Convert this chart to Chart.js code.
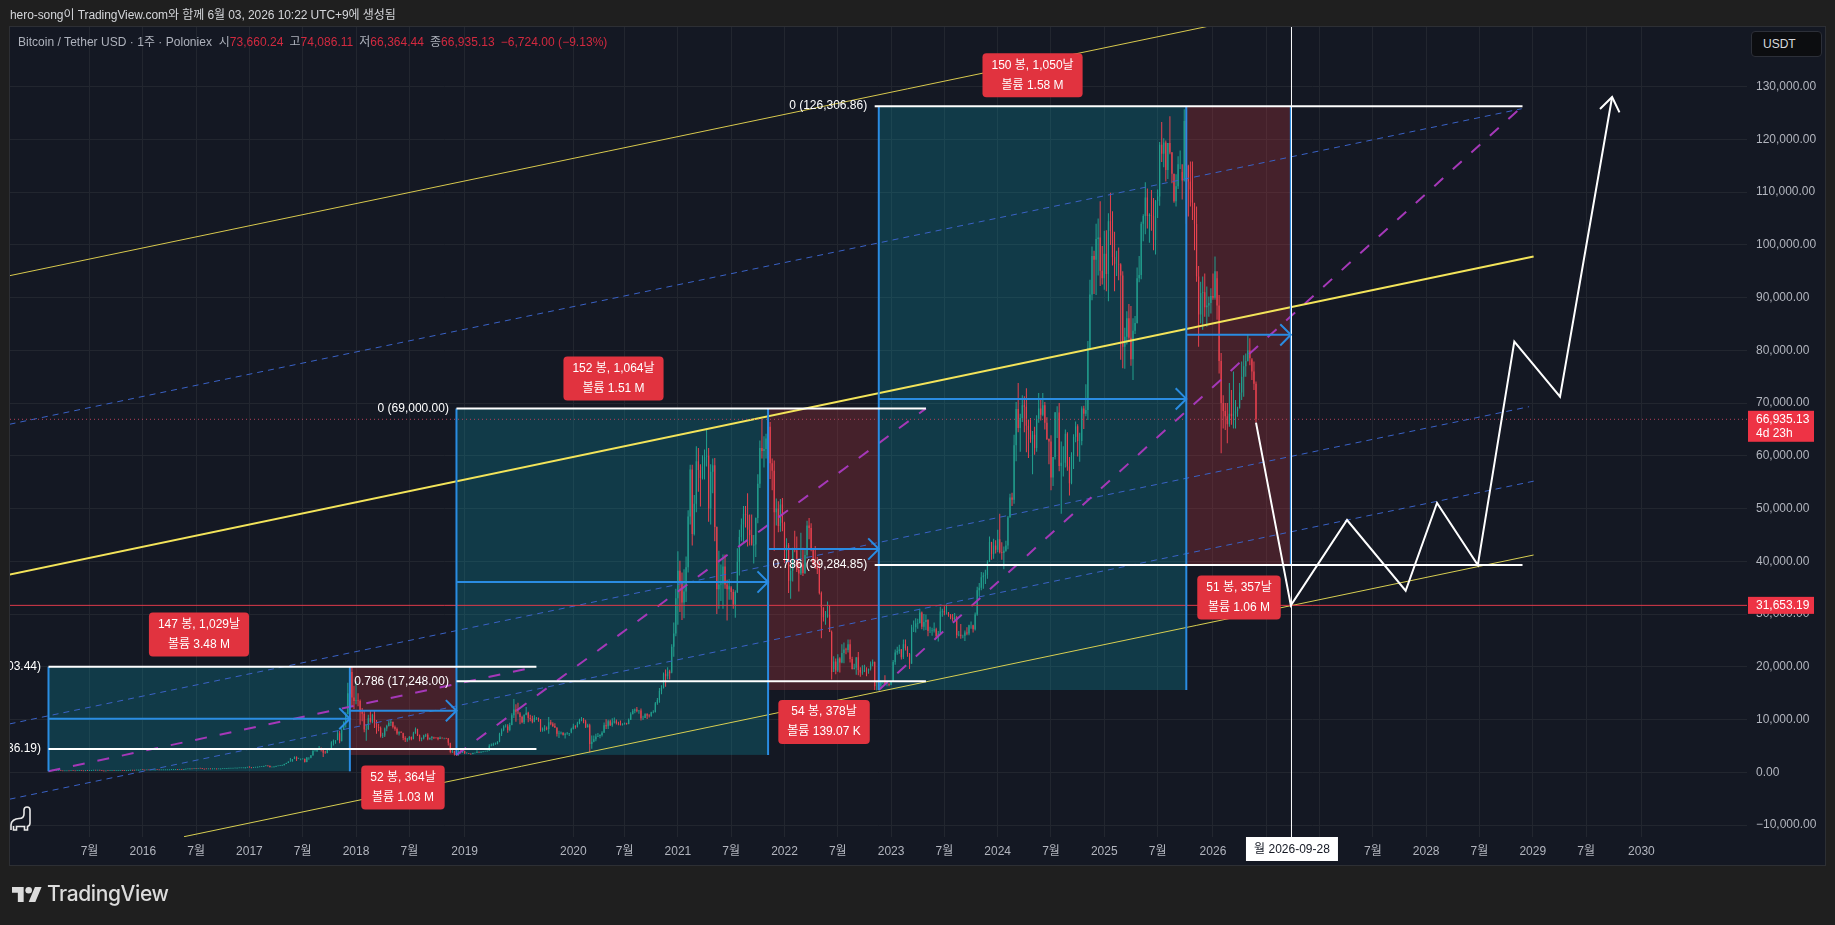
<!DOCTYPE html>
<html lang="ko">
<head>
<meta charset="utf-8">
<title>BTCUSDT weekly</title>
<script src="https://cdn.jsdelivr.net/npm/chart.js@4"></script>
<style>
  html, body { margin: 0; padding: 0; background: #1f1f1f; width: 1835px; height: 925px; overflow: hidden; }
  body { font-family: "Liberation Sans", "Noto Sans CJK KR", sans-serif; font-size: 12px; position: relative; }
  #pane { position: absolute; left: 9px; top: 26px; width: 1815px; height: 838px; background: #141823; border: 1px solid #2d2f34; }
  #chartCanvas { position: absolute; left: 0; top: 0; }
  #credit { position: absolute; left: 10px; top: 5px; color: #d4d6da; white-space: nowrap; letter-spacing: -0.07px; }
  #legend { position: absolute; left: 18px; top: 32px; color: #aeb2bc; white-space: nowrap; letter-spacing: 0.03px; }
  #legend b { font-weight: normal; color: #d2293f; margin-right: 6px; }
  #unit { position: absolute; left: 1751px; top: 31px; width: 68px; height: 24px; line-height: 24px; padding-left: 1px; text-indent: 10px;
          background: #0c0d10; border: 1px solid #2c2f38; border-radius: 4px; color: #d8dade; }
  #brand { position: absolute; left: 12px; top: 881px; display: flex; align-items: center; color: #dcdcdc; }
  #brand span { font-family: Inter, "Liberation Sans", sans-serif; font-weight: 500; font-size: 21px; margin-left: 5px; letter-spacing: -0.4px; }
  #dino { position: absolute; left: 10px; top: 806px; }
</style>
</head>
<body>
<div id="pane"></div>
<canvas id="chartCanvas" width="1835" height="925"></canvas>
<div id="credit">hero-song이 TradingView.com와 함께 6월 03, 2026 10:22 UTC+9에 생성됨</div>
<div id="legend">Bitcoin / Tether USD · 1주 · Poloniex&nbsp; 시<b>73,660.24</b>고<b>74,086.11</b>저<b>66,364.44</b>종<b>66,935.13</b><b>−6,724.00 (−9.13%)</b></div>
<div id="unit">USDT</div>
<svg id="dino" width="22" height="25" viewBox="0 0 22 25" fill="none" stroke="#e8e8e8" stroke-width="1.6">
  <path d="M1 24V19C1 15 5 12.5 9 12.5C12.5 12.5 14 11 14 8V4C14 1.8 15.5 1 17 1C18.8 1 20 2.2 20 4V17C20 19 19 20 17.5 20.5V24H14.5V20.5H6.5V24H3.5V20"/>
</svg>
<div id="brand">
  <svg width="30" height="16" viewBox="0 3 36 19" fill="#dcdcdc"><path d="M14 22H7V11H0V4h14v18zM28 22h-8l7.5-18h8L28 22z"/><circle cx="20" cy="8" r="4"/></svg>
  <span>TradingView</span>
</div>
<script>
// weekly bars, week 0 = 2015-02-23
const barHigh = [
  255,300,300,290,265,270,260,240,240,245,240,250,245,240,250,250,245,240,255,255,285,290,300,295,315,300,285,265,240,240,240,245,240,245,245,255,245,240,270,340,500,385,340,380,465,470,
  460,450,410,400,385,410,450,445,425,420,420,420,420,425,430,455,465,460,460,455,535,590,590,780,700,680,670,670,670,660,625,590,590,590,610,620,610,610,615,645,650,660,715,740,745,750,760,775,785,800,895,985,
  1150,910,925,925,1030,1060,1060,1220,1290,1340,1250,1120,1090,1220,1220,1260,1360,1630,1800,2050,2700,2500,2990,2980,2780,2600,2660,2600,2880,2850,3300,4200,4500,4500,4980,4700,4400,4100,4400,4620,5900,6200,6100,7900,7900,8300,9700,11400,17000,19700,20003,16400,
  17250,15000,13800,12200,11700,9000,10900,11700,11100,11700,9900,9200,8700,7500,8500,9000,9800,9900,9600,8850,8500,7800,7800,7400,6850,6500,6900,6800,7700,8480,8250,7150,6600,7100,7300,7400,6600,6900,6750,6650,6700,6800,6600,6550,6550,6500,5500,4300,4100,3600,4200,4200,4100,
  4100,3800,3650,3550,3720,3700,4200,3950,3950,4000,4100,4150,5300,5450,5600,5650,5900,7500,8300,8900,9100,9100,9400,11200,13900,12900,13200,11100,10700,10950,12400,11500,10900,10700,10800,10500,10400,10100,8500,8900,8700,10500,9900,9500,9300,8500,7900,7750,7600,7500,7650,7450,
  8450,9200,8900,9600,10150,10500,10300,9950,9200,9200,7000,7000,7300,7450,7200,7800,9450,10050,9950,9950,10250,10400,10000,9600,9800,9300,9450,9400,10200,11400,12000,12100,12400,11800,12100,10700,11200,11200,11000,11500,11750,13350,14100,16000,16500,18900,19500,19900,19450,24300,28400,34800,
  41900,40100,37900,38500,40900,49700,58300,58300,52600,61800,61500,58400,60100,61200,64900,61500,58400,59500,59600,46600,42000,39400,41300,41300,36500,36600,35000,34700,34500,42500,46000,48100,50500,50500,52900,48900,48900,45000,48300,56500,62900,67000,63700,64200,69000,66400,59500,59100,51900,51400,51800,52000,
  47500,44400,43500,38900,42600,45800,44700,40000,45400,42600,42300,47700,48200,47200,42400,42900,40800,40000,34300,31000,30600,32400,31700,26900,22000,21600,22400,21800,24300,24600,23600,25200,25200,21900,20600,21800,22800,19900,20300,20400,19900,19700,21000,21400,21000,17200,16800,17400,17400,18400,17000,16900,
  17200,21300,23300,23800,24200,23400,25200,25200,23900,22600,28000,28800,29200,29100,31000,30500,30000,29900,29000,27600,27400,28400,27400,26800,31400,31000,31500,31800,30400,30000,30000,30200,29700,26800,28100,26100,26900,27500,28000,28600,28000,30300,35200,35900,38000,37900,38400,40200,44700,43500,44300,44000,
  46000,49000,43600,42800,43900,48600,52800,53000,64000,70200,73800,68000,71500,71300,72800,66900,67200,64700,65500,67700,71900,70600,71900,70200,67300,63300,63900,59800,68300,69400,70000,62700,61800,65000,64500,59800,60700,64100,66500,66000,64400,69400,69500,73600,81800,93400,99700,98900,104000,105000,108300,99800,
  102700,102800,106000,109900,106400,102500,98900,99500,96500,95000,84300,87400,88800,88400,86100,86500,95700,97900,104400,105800,111900,110700,106000,110400,108900,108500,110500,119500,123300,120200,119800,119300,124400,117600,113500,113400,116800,117900,113800,125700,126306,
  115200,115800,115800,107300,107300,96000,93000,94000,94600,92100,90200,91800,94600,97800,93700,90500,79500,71500,70000,70000,73800,72500,76000,70600,69300,73800,77900,79100,79400,82900,82300,78200,77900,74086
];
const barLow = [
  215,235,270,240,235,245,230,215,215,220,220,225,225,220,225,235,225,215,225,240,245,265,280,275,280,280,255,200,220,225,225,230,225,225,235,235,230,225,230,255,310,310,305,320,355,405,
  425,360,370,365,365,370,400,415,405,405,405,405,405,410,415,420,445,440,440,440,445,520,560,575,580,630,640,645,650,615,540,560,565,560,570,600,595,590,595,605,630,635,650,680,695,715,725,745,755,770,785,880,
  890,750,810,880,915,960,1000,1040,1170,1100,960,900,950,1040,1150,1180,1240,1340,1550,1750,2020,2050,2500,2130,2500,2300,2450,1840,1900,2400,2650,3200,3950,3850,4300,3950,2900,3500,3600,4150,4550,5100,5400,6100,5500,5900,8000,8500,11000,14800,12500,12000,
  12900,12500,9000,9700,7600,6000,8000,9400,9300,8400,7300,7800,6600,6500,6700,7800,8700,8800,8300,7900,7100,7000,7450,6100,5750,5800,6100,6100,6300,7300,6900,5900,5880,6200,6700,6100,6150,6100,6300,6400,6100,6300,6400,6250,6300,5100,3600,3650,3200,3150,3200,3550,3650,
  3500,3500,3450,3350,3400,3560,3650,3650,3670,3780,3900,3950,4100,4950,5050,5200,5300,5700,6900,7800,8500,7500,7800,8900,10300,9600,11000,9100,9300,9150,10800,9500,9700,9300,9500,9900,9600,7700,7700,7800,7950,7300,8900,8600,8400,6800,6500,7150,7000,6400,7100,6900,
  7670,8100,8250,8500,9100,9700,9300,8400,8500,3800,4450,5700,5900,6700,6450,6800,7500,8200,8200,8800,8650,9250,9050,8900,8850,8850,9050,9000,9100,9900,11000,11200,11400,11100,9800,9900,10300,10100,10400,10550,11200,11350,12800,13200,14800,15900,16200,17600,17600,19050,21900,25800,
  28000,30400,28900,29200,32300,37900,47000,43000,44900,49300,53200,50400,55500,55500,58000,47500,47000,52900,43800,30000,31000,32500,31000,34800,28800,32700,32700,31000,29300,34000,37300,43800,43500,46400,42800,43000,43400,39600,40800,47200,53900,59500,57800,59500,62300,55600,53500,42000,46800,45500,45600,45700,
  39700,39800,34000,32900,36200,41700,38000,34300,37400,37200,37600,40500,44200,41900,39200,38600,37600,33700,25400,28600,28000,29300,26600,17600,19600,18600,19000,18900,20700,20700,22400,22700,20800,19500,19500,18500,18400,18100,18500,19100,18200,18700,19300,20100,15600,15500,15500,16100,16700,16500,16300,16300,
  16500,17100,20400,22300,22500,21400,21500,23100,21900,19600,20600,26600,26500,27200,28200,27100,26900,27000,25800,26400,25900,26500,25400,24800,26300,29500,29800,29900,29500,29000,28600,28800,25400,25800,25300,25400,24900,26000,26000,27200,26500,26900,29700,33400,34500,34800,35700,36700,39900,40300,40500,41500,
  41700,41500,40300,38500,41800,42300,48300,50500,50900,59000,64500,60800,66400,64500,60700,59600,62500,56500,60200,60800,66300,66700,67500,65000,63000,58400,53500,54300,59300,63400,57100,49000,56100,57800,57200,52500,54600,57500,62600,59900,58900,62000,65100,67500,66800,80200,89500,90700,90500,94200,92200,92500,
  91500,91200,89300,100000,96100,91200,94100,93300,78200,76600,76500,81100,81600,77100,74400,83100,85100,92900,93500,100700,102000,103100,100400,102700,99000,98200,105100,107400,115700,114700,112000,112500,117200,111700,108000,107300,110600,114400,108600,112000,104000,
  105400,107300,104700,99000,93000,80700,85100,83900,86400,84500,86400,87000,89600,89600,85800,75600,60500,65200,64900,62400,65500,65900,65200,65200,67400,69300,70600,71200,75000,77900,77200,74400,72500,66364
];
const barClose = [
  240,275,285,245,250,255,235,225,225,235,225,240,235,230,240,245,235,225,250,245,270,280,290,285,295,285,260,215,235,230,230,240,230,240,240,250,235,230,260,320,375,330,325,360,430,450,
  447,380,400,375,375,405,440,420,415,415,415,415,415,420,425,450,460,445,455,445,530,575,580,680,660,660,650,660,655,625,590,570,580,570,600,610,600,600,610,640,640,650,700,700,730,730,750,760,770,790,890,960,
  905,820,920,920,1010,1030,1050,1180,1270,1230,970,970,1070,1180,1180,1240,1340,1550,1780,2040,2050,2500,2950,2500,2500,2500,2500,1950,2750,2750,3200,4100,4100,4350,4400,4300,3700,3650,4350,4600,5700,6000,6100,7400,5900,8000,9500,11000,15000,19000,14200,13500,
  13600,13500,11500,11100,8100,8200,10300,9600,10900,9500,8600,8400,6900,7000,8300,8800,9400,9600,8600,8200,7350,7600,7500,6500,6200,6350,6700,6250,7400,8200,7000,6300,6400,7000,7100,6250,6500,6700,6600,6550,6300,6550,6450,6450,6400,5600,3850,4000,3550,3250,3950,3800,4050,
  3550,3550,3530,3460,3650,3680,3800,3790,3900,3990,3990,4100,5050,5100,5300,5350,5800,7250,8000,8700,8700,8000,8950,10800,11900,11500,11400,10500,9500,10900,11300,10300,10100,9600,10300,10300,10000,8000,8200,8300,8200,9500,9200,8800,8500,7300,7400,7500,7100,7250,7300,7400,
  8200,8700,8600,9300,9900,9900,9700,8550,8900,5350,5800,6250,6800,6900,7050,7500,8900,8750,9700,8900,9450,9700,9350,9300,9000,9100,9300,9150,9950,11000,11650,11900,11650,11700,10250,10300,11000,10750,10700,11400,11450,13100,13700,15450,16000,18700,18200,19100,18800,23800,26300,33000,
  38200,36000,32200,34300,38900,48500,57400,45200,50900,59000,57300,55800,58000,59800,60000,50000,57000,58200,46500,34700,35600,35800,39000,35600,34700,35300,34200,31800,34200,39900,44600,47000,49000,48800,46000,45000,43000,43200,48200,54700,61500,60900,61300,63300,65500,58600,57200,49300,50000,46700,50800,47300,
  42000,43100,36300,38200,42400,42100,38400,37700,39400,37800,41200,46800,46300,42200,39700,39500,38500,34000,31300,29400,29500,29900,26600,19000,21000,19300,21600,20800,22600,23300,23200,24300,21500,19600,19800,21800,19400,18900,19000,19400,19300,19600,20600,20900,16300,16300,16400,17100,17100,16800,16800,16600,
  17100,20900,22700,23000,23300,21800,24300,23500,22400,20600,27500,27500,28200,28300,30300,27600,28500,28900,26800,26800,26900,27100,25800,26300,30500,30600,30300,30300,29800,29300,29000,29400,26000,26100,25900,25900,26500,26300,27900,27900,27100,29900,34500,35000,37000,37300,37400,39900,43700,41400,43000,42200,
  44200,41700,41600,42000,43000,48300,52100,51700,62000,68900,65300,67200,69600,69300,65700,64900,63100,64000,61500,67000,69000,67800,69600,66300,63200,62700,55900,59800,68200,68200,58100,58700,58700,64200,58000,54800,60000,63600,65600,62800,62800,69000,68000,68700,80400,90600,97900,97200,101100,101400,95100,93700,
  98300,94500,104500,102600,97700,96400,96400,96300,94200,80700,82600,86100,82400,78300,83700,85200,93700,94300,104000,105500,109000,105500,105700,105500,100900,108300,109200,119000,117300,119400,114200,119300,117500,113500,108300,111100,115300,115300,112200,123500,115000,
  112000,110500,108000,104000,94000,86800,90900,91000,88200,88500,89000,90300,90000,95000,88500,78000,70000,68500,67500,66000,68000,67500,68000,68500,69000,72000,75000,77000,78000,80000,78500,76000,73659,66935.13
];

// axis ticks
const weekTicks = [20,46,72,98,124,150,176,203,256,281,307,333,359,385,411,437,463,489,515,541,568,594,620,646,672,698,724,750,777];
const weekTickLabels = ['7월','2016','7월','2017','7월','2018','7월','2019','2020','7월','2021','7월','2022','7월','2023','7월','2024','7월','2025','7월','2026','7월','2027','7월','2028','7월','2029','7월','2030'];
const priceTicks = [-10000,0,10000,20000,30000,40000,50000,60000,70000,80000,90000,100000,110000,120000,130000];

// channel and trend lines, [week, price]
const channelTop = [[-19,94160],[565,141400]];
const channelMid = [[-19,37480],[724.4,97800]];
const channelLow = [[66.1,-12210],[724.4,41200]];
const dashedTop = [[-19,65990],[718.6,125820]];
const dashedMid = [[-19,9170],[722.2,69320]];
const dashedLow = [[-19,-5100],[724.8,55230]];
const diagonalFirst = [[0,186],[238,20003]];
const diagonalSecond = [[199,3300],[428,69000]];
const diagonalThird = [[405,15600],[719,126306]];
const projectionPath = [[589,66290],[606,31653],[633.4,47840],[662,34430],[677.3,51060],[697.2,39285],[715,81650],[737.3,71220],[762.7,128040]];

// measured ranges [fromWeek, toWeek, lowPrice, highPrice]
const riseRanges = [[0,147,186,20003],[199,351,3300,69000],[405,555,15600,126306]];
const fallRanges = [[147,199,3283,20003],[351,405,15600,69000],[555,606,39285,126306]];
const rangeEdges = [[0,186,20003],[147,186,20003],[199,3300,69000],[351,3300,69000],[405,15600,126306],[555,15600,126306],[606,39285,126306]];
const rangeArrows = [[0,147,10163],[147,199,11680],[199,351,36083],[351,405,42340],[405,555,70800],[555,606,82950]];

// fib levels
const fibFrom = [0,0,199,199,403,403];
const fibTo = [238,238,428,428,719,719];
const fibPrice = [20003.44,4436.19,69000,17248,126306.86,39284.85];
const fibText = ['0 (20,003.44)','0.786 (4,436.19)','0 (69,000.00)','0.786 (17,248.00)','0 (126,306.86)','0.786 (39,284.85)'];

// range captions
const captionWeek = [73.4,172.9,275.6,378.3,480,580.7];
const captionPrice = [26128,-2882,74668,9537,132157,33144];
const captionBars = ['147 봉, 1,029날','52 봉, 364날','152 봉, 1,064날','54 봉, 378날','150 봉, 1,050날','51 봉, 357날'];
const captionVolume = ['볼륨 3.48 M','볼륨 1.03 M','볼륨 1.51 M','볼륨 139.07 K','볼륨 1.58 M','볼륨 1.06 M'];

const lastClose = 66935.13;
const supportPrice = 31653.19;
const crosshairWeek = 606.3;
const crosshairText = '월 2026-09-28';

const FONT = '12px "Liberation Sans", "Noto Sans CJK KR", sans-serif';
const UP = '#22a08f';
const DOWN = '#e8424f';
const BLUE = '#2a8ce2';
const LABEL_RED = '#e1333f';
const PRICE_RED = '#ee3345';

const xMin = -18.78, xMax = 828.5, yMin = -12268, yMax = 141316;

const barOpen = barClose.map((c, i) => (i === 0 ? c : barClose[i - 1]));
const barColor = barClose.map((c, i) => (c >= barOpen[i] ? UP : DOWN));

const lineSet = (points, color, width, dash) => ({
  type: 'line',
  data: points.map(p => ({ x: p[0], y: p[1] })),
  borderColor: color,
  borderWidth: width,
  borderDash: dash || [],
  pointRadius: 0,
  tension: 0,
  fill: false
});

// first in the list ends up on top
const overlaySets = [
  lineSet([[crosshairWeek, yMin], [crosshairWeek, yMax]], '#ffffff', 1),
  lineSet(projectionPath, '#ffffff', 2),
  ...fibPrice.map((p, i) => lineSet([[fibFrom[i], p], [fibTo[i], p]], '#ffffff', 2)),
  ...rangeEdges.map(e => lineSet([[e[0], e[1]], [e[0], e[2]]], BLUE, 2)),
  ...rangeArrows.map(a => lineSet([[a[0], a[2]], [a[1], a[2]]], BLUE, 2)),
  lineSet([[xMin, supportPrice], [xMax, supportPrice]], '#dd3a4a', 1),
  lineSet([[xMin, lastClose], [xMax, lastClose]], '#b5415a', 1, [1, 3]),
  lineSet(channelMid, '#f3e45a', 2),
  lineSet(channelTop, '#d8c94e', 1),
  lineSet(channelLow, '#d8cf52', 1),
  lineSet(diagonalFirst, '#a538b8', 2, [12, 13]),
  lineSet(diagonalSecond, '#a538b8', 2, [12, 13]),
  lineSet(diagonalThird, '#a538b8', 2, [12, 13]),
  lineSet(dashedTop, '#3a62c6', 1, [6, 5]),
  lineSet(dashedMid, '#3a62c6', 1, [6, 5]),
  lineSet(dashedLow, '#3a62c6', 1, [6, 5])
];

const bodySet = {
  type: 'bar',
  data: barClose.map((c, i) => ({ x: i, y: [Math.min(barOpen[i], c), Math.max(barOpen[i], c)] })),
  backgroundColor: barColor,
  barThickness: 1.2,
  grouped: false,
  inflateAmount: 0,
  borderSkipped: false
};

const wickSet = {
  type: 'bar',
  data: barHigh.map((h, i) => ({ x: i, y: [barLow[i], h] })),
  backgroundColor: barColor,
  barThickness: 1,
  minBarLength: 1,
  grouped: false,
  inflateAmount: 0,
  borderSkipped: false
};

function chevron(ctx, x, y, angle, length, spread, color, width) {
  ctx.save();
  ctx.strokeStyle = color;
  ctx.lineWidth = width;
  ctx.beginPath();
  ctx.moveTo(x - length * Math.cos(angle - spread), y - length * Math.sin(angle - spread));
  ctx.lineTo(x, y);
  ctx.lineTo(x - length * Math.cos(angle + spread), y - length * Math.sin(angle + spread));
  ctx.stroke();
  ctx.restore();
}

function roundBox(ctx, x, y, w, h, r) {
  ctx.beginPath();
  ctx.roundRect(x, y, w, h, r);
  ctx.fill();
}

// shaded ranges go under the bars, everything textual on top
const annotationPlugin = {
  id: 'annotations',
  beforeDatasetsDraw(chart) {
    const { ctx, scales: { x, y } } = chart;
    const fillRange = (r, color) => {
      ctx.fillStyle = color;
      ctx.fillRect(x.getPixelForValue(r[0]), y.getPixelForValue(r[3]),
        x.getPixelForValue(r[1]) - x.getPixelForValue(r[0]),
        y.getPixelForValue(r[2]) - y.getPixelForValue(r[3]));
    };
    riseRanges.forEach(r => fillRange(r, 'rgba(10,180,205,0.22)'));
    fallRanges.forEach(r => fillRange(r, 'rgba(216,60,68,0.25)'));
  },
  afterDatasetsDraw(chart) {
    const { ctx, chartArea, scales: { x, y } } = chart;
    ctx.save();
    ctx.beginPath();
    ctx.rect(chartArea.left, chartArea.top, chartArea.width, chartArea.height);
    ctx.clip();

    rangeArrows.forEach(a => chevron(ctx, x.getPixelForValue(a[1]), y.getPixelForValue(a[2]), 0, 15, Math.PI / 4, BLUE, 2));

    const n = projectionPath.length;
    const tipX = x.getPixelForValue(projectionPath[n - 1][0]), tipY = y.getPixelForValue(projectionPath[n - 1][1]);
    const prevX = x.getPixelForValue(projectionPath[n - 2][0]), prevY = y.getPixelForValue(projectionPath[n - 2][1]);
    chevron(ctx, tipX, tipY, Math.atan2(tipY - prevY, tipX - prevX), 17, 0.62, '#ffffff', 2);

    ctx.font = FONT;
    ctx.textBaseline = 'middle';
    ctx.fillStyle = '#ffffff';
    ctx.textAlign = 'right';
    fibText.forEach((t, i) => ctx.fillText(t, x.getPixelForValue(fibFrom[i]) - 7.5, y.getPixelForValue(fibPrice[i])));

    ctx.textAlign = 'center';
    captionBars.forEach((t, i) => {
      const cx = x.getPixelForValue(captionWeek[i]), cy = y.getPixelForValue(captionPrice[i]);
      const w = Math.max(ctx.measureText(t).width, ctx.measureText(captionVolume[i]).width) + 18;
      ctx.fillStyle = LABEL_RED;
      roundBox(ctx, cx - w / 2, cy - 22, w, 44, 4);
      ctx.fillStyle = '#ffffff';
      ctx.fillText(t, cx, cy - 10);
      ctx.fillText(captionVolume[i], cx, cy + 10);
    });
    ctx.restore();
  },
  afterDraw(chart) {
    const { ctx, chartArea, scales: { x, y } } = chart;
    const boxLeft = chartArea.right + 1;
    ctx.save();
    ctx.font = FONT;
    ctx.textBaseline = 'middle';
    ctx.textAlign = 'left';

    const closeY = y.getPixelForValue(lastClose);
    ctx.fillStyle = PRICE_RED;
    ctx.fillRect(boxLeft, closeY - 8.5, 66, 31);
    ctx.fillStyle = '#ffffff';
    ctx.fillText('66,935.13', boxLeft + 8, closeY);
    ctx.fillText('4d 23h', boxLeft + 8, closeY + 14);

    const supportY = y.getPixelForValue(supportPrice);
    ctx.fillStyle = PRICE_RED;
    ctx.fillRect(boxLeft, supportY - 8.5, 66, 17);
    ctx.fillStyle = '#ffffff';
    ctx.fillText('31,653.19', boxLeft + 8, supportY);

    const crossX = x.getPixelForValue(crosshairWeek);
    ctx.fillStyle = '#ffffff';
    ctx.fillRect(crossX - 45.5, chartArea.bottom, 92, 24);
    ctx.fillStyle = '#131722';
    ctx.textAlign = 'center';
    ctx.fillText(crosshairText, crossX + 0.5, chartArea.bottom + 13);
    ctx.restore();
  }
};

new Chart(document.getElementById('chartCanvas'), {
  type: 'line',
  data: { datasets: [...overlaySets, bodySet, wickSet] },
  options: {
    responsive: false,
    animation: false,
    events: [],
    layout: { autoPadding: false, padding: { left: 10, right: 10, top: 27, bottom: 60 } },
    plugins: { legend: { display: false }, tooltip: { enabled: false } },
    scales: {
      x: {
        type: 'linear',
        min: xMin,
        max: xMax,
        bounds: 'data',
        offset: false,
        border: { display: false },
        grid: { color: '#22262f', drawTicks: false, offset: false },
        afterFit: scale => { scale.height = 28; },
        afterBuildTicks: scale => { scale.ticks = weekTicks.map(v => ({ value: v })); },
        ticks: {
          autoSkip: false,
          maxRotation: 0,
          padding: 7,
          color: '#b2b5be',
          font: { family: '"Liberation Sans", "Noto Sans CJK KR", sans-serif', size: 12 },
          callback: (value, index) => weekTickLabels[index]
        }
      },
      y: {
        type: 'linear',
        position: 'right',
        min: yMin,
        max: yMax,
        bounds: 'data',
        border: { display: false },
        grid: { color: '#22262f', drawTicks: false },
        afterFit: scale => { scale.width = 78; },
        afterBuildTicks: scale => { scale.ticks = priceTicks.map(v => ({ value: v })); },
        ticks: {
          padding: 9,
          color: '#b2b5be',
          font: { family: '"Liberation Sans", sans-serif', size: 12 },
          callback: value => {
            const text = Math.abs(value).toLocaleString('en-US', { minimumFractionDigits: 2, maximumFractionDigits: 2 });
            return value < 0 ? '−' + text : text;
          }
        }
      }
    }
  },
  plugins: [annotationPlugin]
});
</script>
</body>
</html>
